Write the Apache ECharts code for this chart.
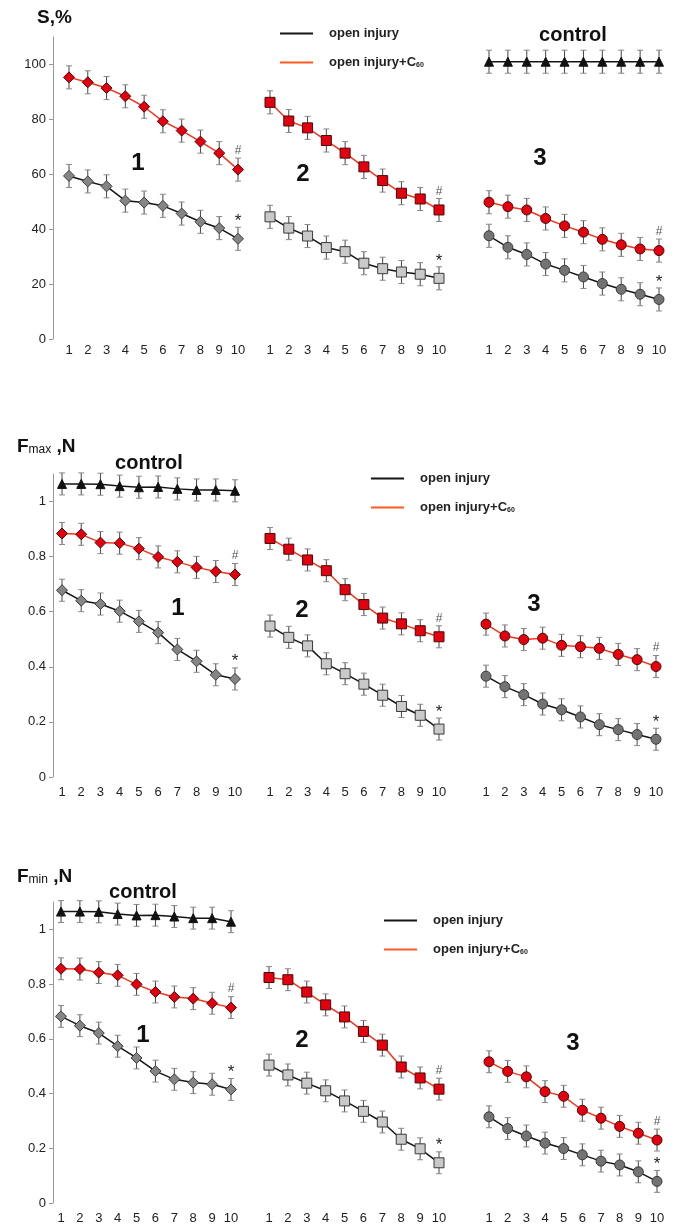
<!DOCTYPE html>
<html>
<head>
<meta charset="utf-8">
<script src="https://cdn.jsdelivr.net/npm/echarts@6/dist/echarts.min.js"></script>
<style>
html,body{margin:0;padding:0;background:#fff;}
#chart{width:686px;height:1225px;}
</style>
</head>
<body>
<div id="chart"></div>
<script>
// ---------- data ----------
const xLabels = ['1','2','3','4','5','6','7','8','9','10'];
const yTicksS = ['0','20','40','60','80','100'];
const yTicksF = ['0','0.2','0.4','0.6','0.8','1'];

// Panel 1: S, %
const s1_c60    = [95.3,93.5,91.4,88.4,84.6,79.3,75.9,71.9,67.7,61.7];
const s1_injury = [59.4,57.4,55.6,50.4,49.7,48.5,45.7,42.7,40.4,36.5];
const s2_c60    = [86.2,79.4,76.9,72.3,67.7,62.7,57.7,53.1,51.0,47.0];
const s2_injury = [44.5,40.4,37.5,33.3,31.8,27.6,25.6,24.4,23.6,22.1];
const s3_c60    = [49.8,48.2,47.0,43.9,41.2,38.9,36.3,34.3,32.8,32.2];
const s3_injury = [37.6,33.4,30.8,27.3,25.0,22.6,20.2,18.1,16.3,14.4];
const s_control = [101,101,101,101,101,101,101,101,101,101];
const errS = 4.2;

// Panel 2: Fmax, N
const fmax_control  = [1.064,1.064,1.063,1.056,1.052,1.053,1.046,1.042,1.042,1.039];
const fmax1_c60     = [0.884,0.881,0.851,0.849,0.829,0.799,0.781,0.761,0.746,0.735];
const fmax1_injury  = [0.678,0.640,0.628,0.602,0.565,0.524,0.463,0.420,0.371,0.356];
const fmax2_c60     = [0.866,0.827,0.788,0.749,0.680,0.626,0.577,0.556,0.531,0.509];
const fmax2_injury  = [0.548,0.507,0.476,0.411,0.375,0.337,0.297,0.256,0.224,0.174];
const fmax3_c60     = [0.555,0.512,0.499,0.504,0.478,0.473,0.467,0.445,0.426,0.401];
const fmax3_injury  = [0.366,0.328,0.299,0.265,0.244,0.218,0.190,0.172,0.154,0.137];
const errFmax = 0.04;

// Panel 3: Fmin, N
const fmin_control  = [1.065,1.065,1.064,1.056,1.051,1.052,1.047,1.041,1.041,1.028];
const fmin1_c60     = [0.856,0.855,0.842,0.832,0.799,0.771,0.753,0.747,0.730,0.714];
const fmin1_injury  = [0.682,0.648,0.621,0.573,0.530,0.482,0.452,0.440,0.434,0.415];
const fmin2_c60     = [0.824,0.816,0.771,0.724,0.680,0.627,0.577,0.497,0.457,0.416];
const fmin2_injury  = [0.504,0.468,0.438,0.410,0.373,0.335,0.296,0.233,0.198,0.147];
const fmin3_c60     = [0.516,0.481,0.461,0.407,0.390,0.339,0.310,0.280,0.255,0.230];
const fmin3_injury  = [0.315,0.272,0.245,0.219,0.199,0.176,0.153,0.139,0.114,0.079];
const errFmin = 0.04;

const NAME_INJ = 'open injury';
const NAME_C60 = 'open injury+C60';

// ---------- layout ----------
const FONT = '"Liberation Sans", Arial, sans-serif';
const panels = [
  { top: 37,  height: 302, max: 110, interval: 20, ticks: yTicksS, err: errS, labelMargin: 5,
    groups: [[69,238],[270,439],[489,659]], axisX: 53,
    series: [
      {g:0, kind:'c60', data:s1_c60, shape:'diamond', mark:'#'},
      {g:0, kind:'inj', data:s1_injury, shape:'diamond', mark:'*'},
      {g:1, kind:'c60', data:s2_c60, shape:'square', mark:'#'},
      {g:1, kind:'inj', data:s2_injury, shape:'square', mark:'*'},
      {g:2, kind:'c60', data:s3_c60, shape:'circle', mark:'#'},
      {g:2, kind:'inj', data:s3_injury, shape:'circle', mark:'*'},
      {g:2, kind:'ctl', data:s_control, shape:'triangle'}
    ],
    title: {x:37, y:18, text:'{b|S,%}'},
    legend: {left:280, top:27},
    texts: [['1',138,163],['2',303,174],['3',540,158]],
    control: [573,35]
  },
  { top: 474, height: 303, max: 1.1, interval: 0.2, ticks: yTicksF, err: errFmax, labelMargin: 9,
    groups: [[62,235],[270,439],[486,656]], axisX: 53,
    series: [
      {g:0, kind:'ctl', data:fmax_control, shape:'triangle'},
      {g:0, kind:'c60', data:fmax1_c60, shape:'diamond', mark:'#'},
      {g:0, kind:'inj', data:fmax1_injury, shape:'diamond', mark:'*'},
      {g:1, kind:'c60', data:fmax2_c60, shape:'square', mark:'#'},
      {g:1, kind:'inj', data:fmax2_injury, shape:'square', mark:'*'},
      {g:2, kind:'c60', data:fmax3_c60, shape:'circle', mark:'#'},
      {g:2, kind:'inj', data:fmax3_injury, shape:'circle', mark:'*'}
    ],
    title: {x:17, y:447, text:'{b|F}{s|max}{b| ,N}'},
    legend: {left:371, top:472},
    texts: [['1',178,608],['2',302,610],['3',534,604]],
    control: [149,463]
  },
  { top: 902, height: 302, max: 1.1, interval: 0.2, ticks: yTicksF, err: errFmin, labelMargin: 9,
    groups: [[61,231],[269,439],[489,657]], axisX: 53,
    series: [
      {g:0, kind:'ctl', data:fmin_control, shape:'triangle'},
      {g:0, kind:'c60', data:fmin1_c60, shape:'diamond', mark:'#'},
      {g:0, kind:'inj', data:fmin1_injury, shape:'diamond', mark:'*'},
      {g:1, kind:'c60', data:fmin2_c60, shape:'square', mark:'#'},
      {g:1, kind:'inj', data:fmin2_injury, shape:'square', mark:'*'},
      {g:2, kind:'c60', data:fmin3_c60, shape:'circle', mark:'#'},
      {g:2, kind:'inj', data:fmin3_injury, shape:'circle', mark:'*'}
    ],
    title: {x:17, y:877, text:'{b|F}{s|min}{b| ,N}'},
    legend: {left:384, top:914},
    texts: [['1',143,1035],['2',302,1040],['3',573,1043]],
    control: [143,892]
  }
];

const fillInj = { diamond:'#858585', square:'#c9c9c9', circle:'#737373' };

const grid = [], xAxis = [], yAxis = [], series = [], graphic = [], legend = [];

function errRender(params, api) {
  const x = api.value(0), lo = api.value(1), hi = api.value(2);
  const a = api.coord([x, hi]), b = api.coord([x, lo]);
  const w = 3;
  const st = { stroke: '#444', lineWidth: 1 };
  const cap = { stroke: '#888', lineWidth: 1 };
  return { type: 'group', children: [
    { type: 'line', shape: { x1: a[0], y1: a[1], x2: b[0], y2: b[1] }, style: st },
    { type: 'line', shape: { x1: a[0]-w, y1: a[1], x2: a[0]+w, y2: a[1] }, style: cap },
    { type: 'line', shape: { x1: b[0]-w, y1: b[1], x2: b[0]+w, y2: b[1] }, style: cap }
  ]};
}

let gi = 0;
panels.forEach((p, pi) => {
  const base = gi;
  p.groups.forEach((g, k) => {
    grid.push({ left: g[0], top: p.top, width: g[1]-g[0], height: p.height, containLabel: false });
    xAxis.push({ type: 'category', gridIndex: gi, data: xLabels, boundaryGap: false,
      axisLine: { show: false }, axisTick: { show: false }, splitLine: { show: false },
      axisLabel: { interval: 0, margin: p.labelMargin, fontSize: 13, color: '#222', fontFamily: FONT } });
    yAxis.push({ type: 'value', gridIndex: gi, min: 0, max: p.max, interval: p.interval,
      show: k === 0, position: 'left', offset: g[0] - p.axisX,
      axisLine: { show: true, lineStyle: { color: '#999', width: 1 } },
      axisTick: { show: true, length: 4, lineStyle: { color: '#999' } },
      splitLine: { show: false },
      axisLabel: { showMaxLabel: false, margin: 7, fontSize: 13, color: '#222', fontFamily: FONT,
        formatter: v => { const i = Math.round(v / p.interval); return (Math.abs(v - i*p.interval) < 1e-6 && i < p.ticks.length) ? p.ticks[i] : ''; } } });
    gi++;
  });

  p.series.forEach(s => {
    const idx = base + s.g;
    let name, lineColor, fill, border, size;
    if (s.kind === 'c60') { name = NAME_C60; lineColor = '#f2361b'; fill = '#e3000f'; border = '#4a0a0a'; }
    else if (s.kind === 'inj') { name = NAME_INJ; lineColor = '#151515'; fill = fillInj[s.shape]; border = '#3a3a3a'; }
    else { name = 'control'; lineColor = '#151515'; fill = '#111'; border = '#111'; }
    size = s.shape === 'diamond' ? 11 : (s.shape === 'triangle' ? 9 : 10);
    // error bars
    series.push({ type: 'custom', name: name + ' err', xAxisIndex: idx, yAxisIndex: idx, z: 1,
      renderItem: errRender, encode: { x: 0, y: [1, 2] }, silent: true,
      data: s.data.map((v, i) => [i, v - p.err, v + p.err]) });
    const data = s.data.map((v, i) => {
      if (i === s.data.length - 1 && s.mark) {
        return { value: v, label: { show: true, position: 'top', distance: s.mark === '#' ? 7 : 3,
          formatter: s.mark, fontFamily: FONT,
          fontSize: s.mark === '#' ? 12 : 17, color: s.mark === '#' ? '#555' : '#222' } };
      }
      return v;
    });
    series.push({ type: 'line', name: name, xAxisIndex: idx, yAxisIndex: idx, z: 3,
      data: data, symbol: s.shape, symbolSize: size, showAllSymbol: true,
      lineStyle: { color: lineColor, width: 1.5 },
      itemStyle: { color: fill, borderColor: border, borderWidth: 1 },
      emphasis: { disabled: true }, animation: false });
  });

  // title
  graphic.push({ type: 'text', left: p.title.x, top: p.title.y - 10,
    style: { text: p.title.text, fontFamily: FONT,
      rich: { b: { fontSize: 19, fontWeight: 'bold', fill: '#111', fontFamily: FONT },
              s: { fontSize: 12, fill: '#111', fontFamily: FONT, padding: [6, 0, 0, 0] } } } });
  // group numbers
  p.texts.forEach(t => graphic.push({ type: 'text', x: t[1], y: t[2],
    style: { text: t[0], fontSize: 24, fontWeight: 'bold', fill: '#111', fontFamily: FONT, align: 'center', verticalAlign: 'middle' } }));
  graphic.push({ type: 'text', x: p.control[0], y: p.control[1],
    style: { text: 'control', fontSize: 20, fontWeight: 'bold', fill: '#111', fontFamily: FONT, align: 'center', verticalAlign: 'middle' } });

  legend.push({ orient: 'vertical', left: p.legend.left, top: p.legend.top, itemGap: 16, padding: 0,
    itemWidth: 33, itemHeight: 2, icon: 'rect', selectedMode: false,
    data: [ { name: NAME_INJ, itemStyle: { color: '#151515', borderWidth: 0 } },
            { name: NAME_C60, itemStyle: { color: '#ff5a1f', borderWidth: 0 } } ],
    formatter: n => n === NAME_C60 ? '{t|open injury+C}{sub|60}' : '{t|' + n + '}',
    textStyle: { padding: [0, 0, 0, 11], rich: {
      t: { fontSize: 13, fontWeight: 'bold', color: '#222', fontFamily: FONT },
      sub: { fontSize: 7, fontWeight: 'bold', color: '#222', fontFamily: FONT, padding: [6, 0, 0, 0] } } } });
});

const chart = echarts.init(document.getElementById('chart'), null, { renderer: 'canvas' });
chart.setOption({ animation: false, backgroundColor: '#fff', grid, xAxis, yAxis, series, graphic, legend });
</script>
</body>
</html>
